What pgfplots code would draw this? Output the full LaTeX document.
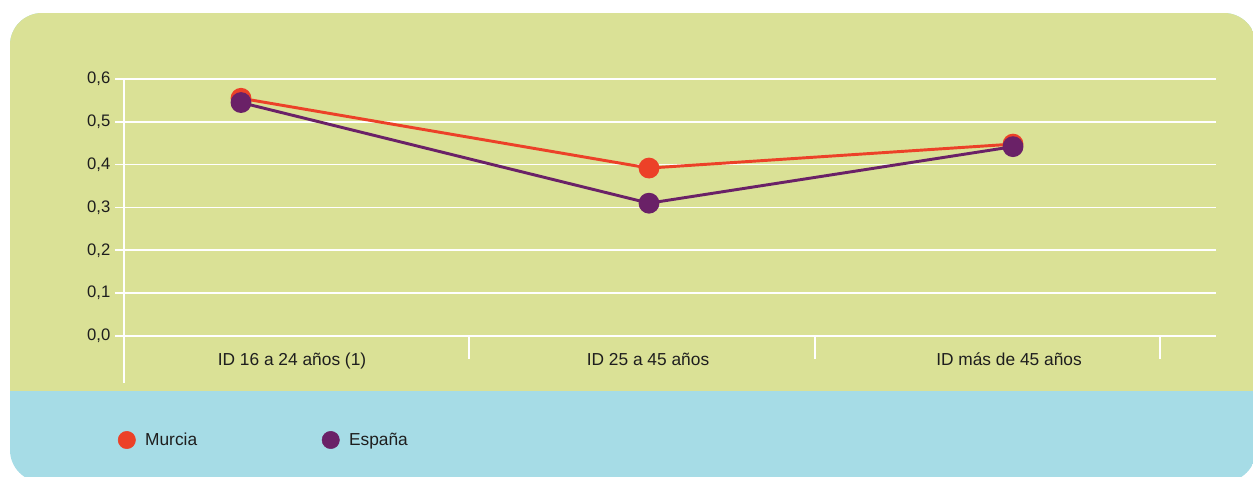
\documentclass[border=0pt]{standalone}
\usepackage{pgfplots}
\pgfplotsset{compat=1.18}
\usepackage{fontspec}
\setmainfont{Liberation Sans}
\definecolor{bggreen}{RGB}{218,225,150}
\definecolor{bgblue}{RGB}{166,220,230}
\definecolor{murcia}{RGB}{236,65,40}
\definecolor{espana}{RGB}{106,33,103}
\definecolor{txt}{RGB}{30,30,30}
\begin{document}
\begin{tikzpicture}
\begin{scope}[x=0.75pt,y=-0.75pt]
\path[use as bounding box] (0,0) rectangle (1253,476);
\begin{scope}
\clip[rounded corners=24pt] (10,13) rectangle (1256,482);
\fill[bgblue] (0,0) rectangle (1260,490);
\fill[bggreen] (0,0) rectangle (1260,391);
\end{scope}
\end{scope}
\begin{axis}[
  at={(93pt,-287.25pt)}, anchor=south west,
  scale only axis, width=819pt, height=228pt,
  xmin=124, xmax=1216, ymin=-0.11, ymax=0.6,
  axis x line=none,
  axis y line*=left,
  y axis line style={white, line width=1.2pt},
  xtick=\empty,
  ytick={0,0.1,0.2,0.3,0.4,0.5,0.6},
  ymajorgrids,
  major grid style={white, line width=1.2pt},
  tick style={white, line width=1.2pt},
  tick align=outside, major tick length=6.75pt,
  yticklabel style={font=\fontsize{12.5}{14}\selectfont, text=txt},
  /pgf/number format/.cd, use comma, fixed, fixed zerofill, precision=1, assume math mode=true,
  /pgfplots/.cd,
  clip=false,
  legend style={at={(axis description cs:-0.0095,-0.1875)}, anchor=west, draw=none, fill=none,
    font=\fontsize{13}{15}\selectfont, text=txt,
    legend columns=2,
    /tikz/every even column/.append style={column sep=91.5pt}},
  legend image code/.code={\fill[#1] (6.5pt,0pt) circle (6.5pt); \path[draw=none,fill=none] (0pt,0pt) rectangle (18.25pt,0.1pt);},
]
\addplot[murcia, line width=2.2pt, mark=*, mark size=6.7pt, forget plot]
  coordinates {(241,0.555) (649,0.392) (1013,0.448)};
\addplot[espana, line width=2.2pt, mark=*, mark size=6.7pt, forget plot]
  coordinates {(241,0.545) (649,0.310) (1013,0.442)};
\addlegendimage{murcia}
\addlegendentry{Murcia}
\addlegendimage{espana}
\addlegendentry{España}
\draw[white, line width=1.2pt] (axis cs:469,0) -- (axis cs:469,-0.054);
\draw[white, line width=1.2pt] (axis cs:815,0) -- (axis cs:815,-0.054);
\draw[white, line width=1.2pt] (axis cs:1160,0) -- (axis cs:1160,-0.054);
\node[anchor=base, text=txt, font=\fontsize{13}{15}\selectfont] at (axis cs:292,-0.070) {ID 16 a 24 años (1)};
\node[anchor=base, text=txt, font=\fontsize{13}{15}\selectfont] at (axis cs:648,-0.070) {ID 25 a 45 años};
\node[anchor=base, text=txt, font=\fontsize{13}{15}\selectfont] at (axis cs:1009,-0.070) {ID más de 45 años};
\end{axis}
\end{tikzpicture}
\end{document}
